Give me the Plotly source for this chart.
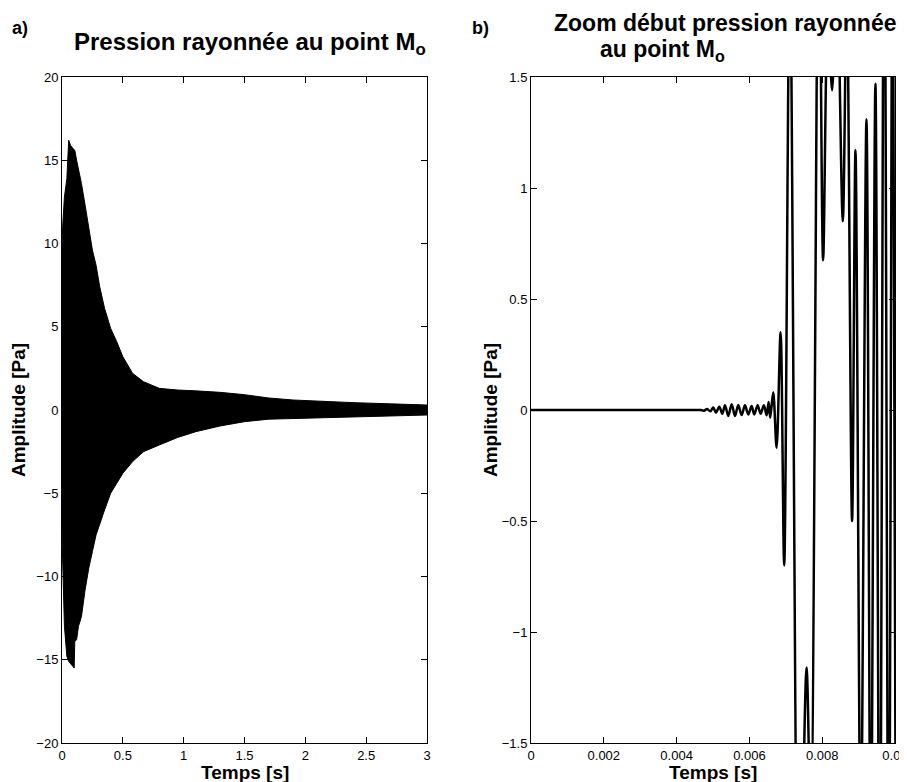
import plotly.graph_objs as go

# PANEL A: envelope of the radiated pressure
env_t = [0, 0.005, 0.02, 0.04, 0.055, 0.07, 0.09, 0.1, 0.105, 0.12, 0.135, 0.16, 0.19,
         0.22, 0.25, 0.28, 0.31, 0.35, 0.4, 0.45, 0.5, 0.58, 0.67, 0.8, 0.95, 1.1, 1.3,
         1.5, 1.7, 1.9, 2.1, 2.4, 2.7, 3.0]
env_upper = [9.6, 11.0, 12.8, 13.9, 16.2, 15.9, 15.7, 15.6, 15.6, 15.0, 14.5, 13.6, 12.3,
             10.9, 9.6, 8.7, 7.4, 6.1, 4.9, 4.1, 3.2, 2.2, 1.7, 1.3, 1.2, 1.15, 1.06,
             0.92, 0.72, 0.6, 0.52, 0.44, 0.37, 0.3]
env_lower = [-7.2, -9.0, -13.0, -14.8, -15.1, -15.2, -15.4, -15.5, -13.9, -13.8, -13.0, -12.4, -10.8,
             -9.5, -8.5, -7.5, -6.9, -6.0, -5.0, -4.4, -3.8, -3.1, -2.5, -2.1, -1.65, -1.3, -0.96,
             -0.7, -0.55, -0.5, -0.45, -0.4, -0.35, -0.3]

# PANEL B: onset of the signal, extrema
zoom_t = [0, 0.0046, 0.00466, 0.00475, 0.00484, 0.004925, 0.005008, 0.005082, 0.005173,
          0.005255, 0.005329, 0.00542, 0.005513, 0.005603, 0.005694, 0.005787, 0.005878,
          0.005968, 0.006061, 0.006133, 0.006226, 0.006308, 0.006399, 0.006473, 0.006528,
          0.006572, 0.006654, 0.006747, 0.006857, 0.006956, 0.007112, 0.007359, 0.00757,
          0.007688, 0.007907, 0.008025, 0.008154, 0.008272, 0.008401, 0.008566, 0.008675,
          0.008821, 0.008914, 0.009059, 0.009216, 0.009334, 0.009462, 0.00958, 0.009704,
          0.009827, 0.009937, 0.01002]
zoom_p = [0, 0, 0, -0.003, 0.004, -0.006, 0.011, -0.012, 0.015,
          -0.017, 0.021, -0.027, 0.026, -0.027, 0.023, -0.023, 0.021,
          -0.020, 0.018, -0.020, 0.021, -0.017, 0.021, -0.024, 0.036,
          -0.035, 0.08, -0.17, 0.35, -0.70, 2.0, -2.6, -1.16,
          -1.9, 2.4, 0.675, 1.8, 1.44, 2.0, 0.85, 1.9,
          -0.50, 1.17, -2.0, 1.31, -2.2, 1.47, -2.5, 2.5,
          -2.5, 2.5, -2.0]

a_xticks = [0, 0.5, 1, 1.5, 2, 2.5, 3]
a_xlabels = ['0', '0.5', '1', '1.5', '2', '2.5', '3']
a_yticks = [-20, -15, -10, -5, 0, 5, 10, 15, 20]
b_xticks = [0, 0.002, 0.004, 0.006, 0.008, 0.01]
b_xlabels = ['0', '0.002', '0.004', '0.006', '0.008', '0.01']
b_yticks = [-1.5, -1, -0.5, 0, 0.5, 1, 1.5]
b_ylabels = ['\u22121.5', '\u22121', '\u22120.5', '0', '0.5', '1', '1.5']

W, H = 907, 782
OFF = 8  # the page body margin shifts the figure by this many pixels
FONT = 'Liberation Sans, Arial, Helvetica, sans-serif'


def px_x(x):
    return (x - OFF) / W


def px_y(y):
    return 1 - (y - OFF) / H


fig = go.Figure()

# filled envelope for panel a
fig.add_trace(go.Scatter(
    x=env_t + env_t[::-1],
    y=env_upper + env_lower[::-1],
    fill='toself',
    fillcolor='black',
    mode='lines',
    line=dict(color='black', width=1),
    xaxis='x', yaxis='y',
    showlegend=False,
))

# signal onset for panel b
fig.add_trace(go.Scatter(
    x=zoom_t,
    y=zoom_p,
    mode='lines',
    line=dict(color='black', width=2.5, shape='spline', smoothing=0.9),
    xaxis='x2', yaxis='y2',
    showlegend=False,
))

axis_style = dict(
    showline=True, linecolor='black', linewidth=1, mirror='ticks',
    ticks='inside', ticklen=6, tickcolor='black', tickwidth=1,
    showgrid=False, zeroline=False, automargin=False,
    tickfont=dict(family=FONT, size=13, color='black'),
)

ydom = [px_y(743), px_y(77)]
fig.update_layout(
    width=W, height=H,
    paper_bgcolor='white', plot_bgcolor='white',
    margin=dict(l=0, r=0, t=0, b=0),
    xaxis=dict(domain=[px_x(62), px_x(427)], range=[0, 3], tickvals=a_xticks, ticktext=a_xlabels, anchor='y', **axis_style),
    yaxis=dict(domain=ydom, range=[-20, 20], tickvals=a_yticks, anchor='x', **axis_style),
    xaxis2=dict(domain=[px_x(531), px_x(895)], range=[0, 0.01], tickvals=b_xticks, ticktext=b_xlabels, anchor='y2', **axis_style),
    yaxis2=dict(domain=ydom, range=[-1.5, 1.5], tickvals=b_yticks, ticktext=b_ylabels, anchor='x2', **axis_style),
)


def label(text, x, y, size, angle=0, xanchor='center'):
    fig.add_annotation(
        text=text, x=px_x(x), y=px_y(y), xref='paper', yref='paper',
        showarrow=False, textangle=angle, xanchor=xanchor, yanchor='middle',
        font=dict(family=FONT, size=size, color='black'),
    )


label('<b>a)</b>', 20, 28, 18)
label('<b>b)</b>', 480, 28, 18)
label('<b>Pression rayonnée au point M<sub>o</sub></b>', 250, 43, 24)
label('<b>Zoom début pression rayonnée</b>', 725, 23, 23)
label('<b>au point M<sub>o</sub></b>', 598, 50, 23, xanchor='left')
label('<b>Temps [s]</b>', 245, 772, 19)
label('<b>Temps [s]</b>', 713, 772, 19)
label('<b>Amplitude [Pa]</b>', 18, 410, 19, angle=-90)
label('<b>Amplitude [Pa]</b>', 490, 410, 19, angle=-90)

fig.write_html("out.html")
